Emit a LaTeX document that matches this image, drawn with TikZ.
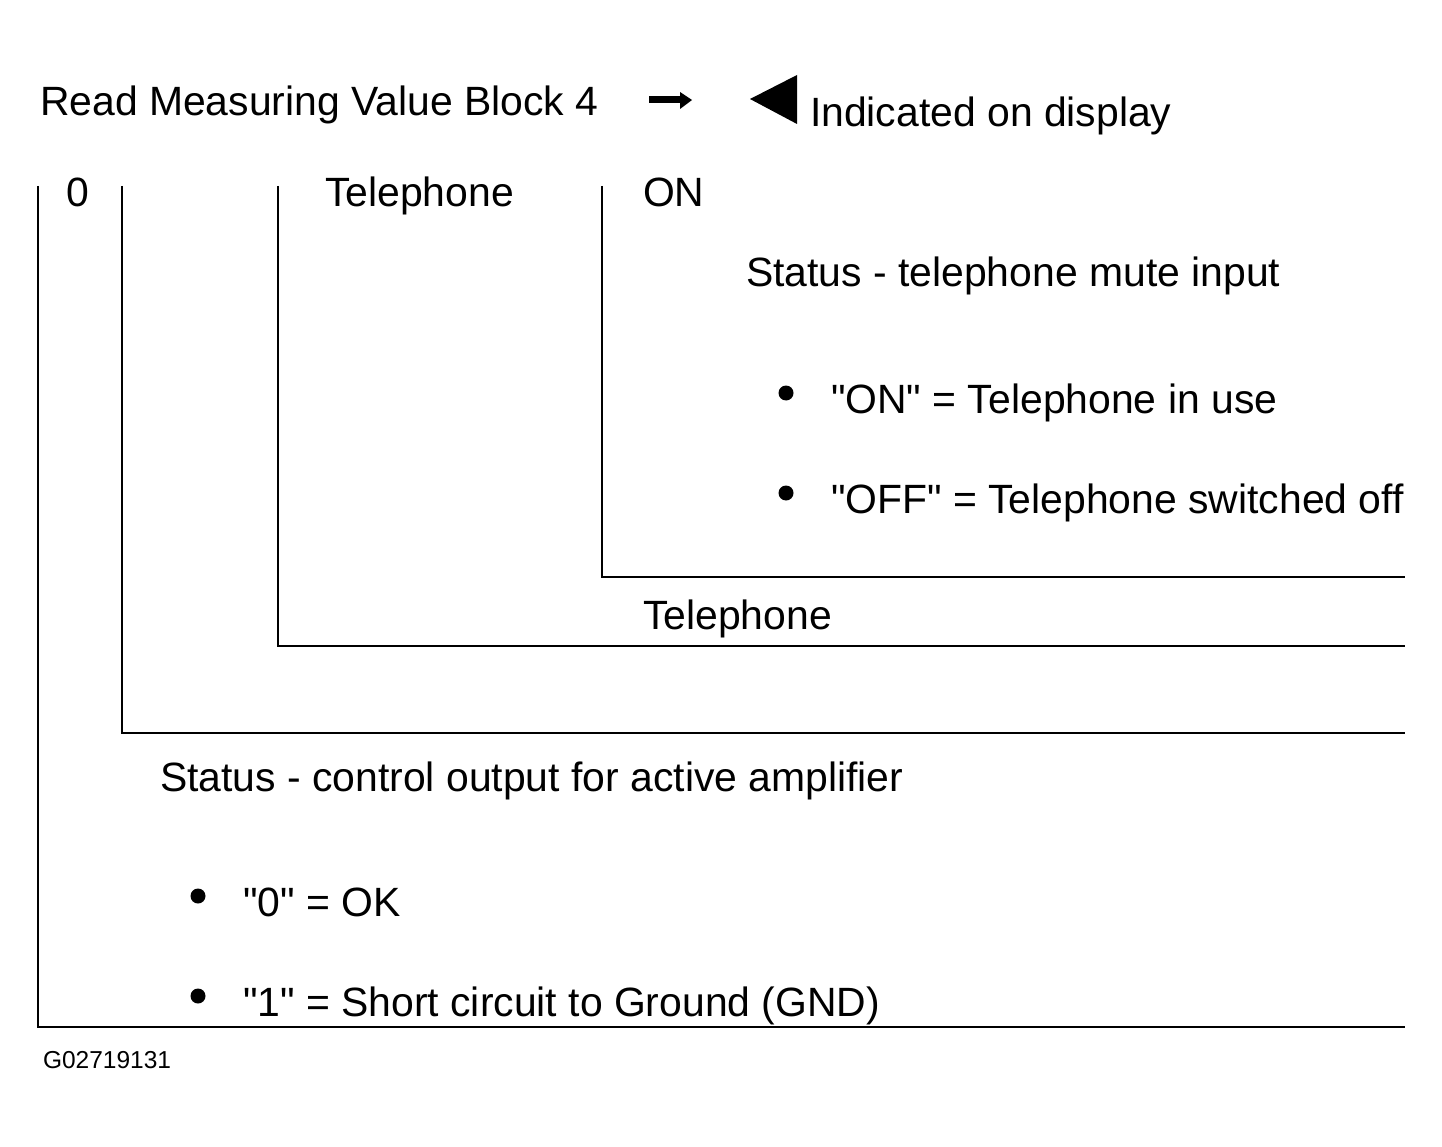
\documentclass[tikz,border=0pt]{standalone}
\usepackage{fontspec}
\setmainfont{Liberation Sans}[Ligatures=TeXOff]
\begin{document}
\begin{tikzpicture}[x=1pt,y=-1pt,
  txt/.style={anchor=base west,inner sep=0pt,outer sep=0pt,font=\fontsize{40.9}{48}\selectfont},
  small/.style={anchor=base west,inner sep=0pt,outer sep=0pt,font=\fontsize{24.5}{30}\selectfont},
  frame/.style={line width=2.6pt,line cap=butt,line join=miter},
  dot/.style={fill=black,draw=none}]
\useasboundingbox (0,0) rectangle (1442,1147);
% header
\node[txt] (title) at (40,116) {Read Measuring Value Block 4};
\draw[line width=7pt] (649,100) -- (683,100);
\fill (680,92) -- (692,100) -- (680,109) -- cycle;
\fill (750,99) -- (797,75) -- (797,124) -- cycle;
\node[txt] (ind) at (810,127) {Indicated on display};
% brackets
\draw[frame] (38,186) -- (38,1027) -- (1405,1027);
\draw[frame] (122,186) -- (122,733) -- (1405,733);
\draw[frame] (278,186) -- (278,646) -- (1405,646);
\draw[frame] (602,186) -- (602,577) -- (1405,577);
% top labels
\node[txt] (zero) at (66,207) {0};
\node[txt] (tel1) at (325,207) {Telephone};
\node[txt] (on) at (643,207) {ON};
\node[txt] (st1) at (746,287) {Status - telephone mute input};
\fill[dot] (786,393) circle (7.5);
\node[txt] (b1) at (831,413) {"ON" = Telephone in use};
\fill[dot] (786,493) circle (7.5);
\node[txt] (b2) at (831,513) {"OFF" = Telephone switched off};
\node[txt] (tel2) at (643,629) {Telephone};
\node[txt] (st2) at (160,791) {Status - control output for active amplifier};
\fill[dot] (198,896) circle (7.5);
\node[txt] (b3) at (243,916) {"0" = OK};
\fill[dot] (198,996) circle (7.5);
\node[txt] (b4) at (243,1016) {"1" = Short circuit to Ground (GND)};
\node[small] (code) at (43,1068) {G02719131};
\end{tikzpicture}
\end{document}
